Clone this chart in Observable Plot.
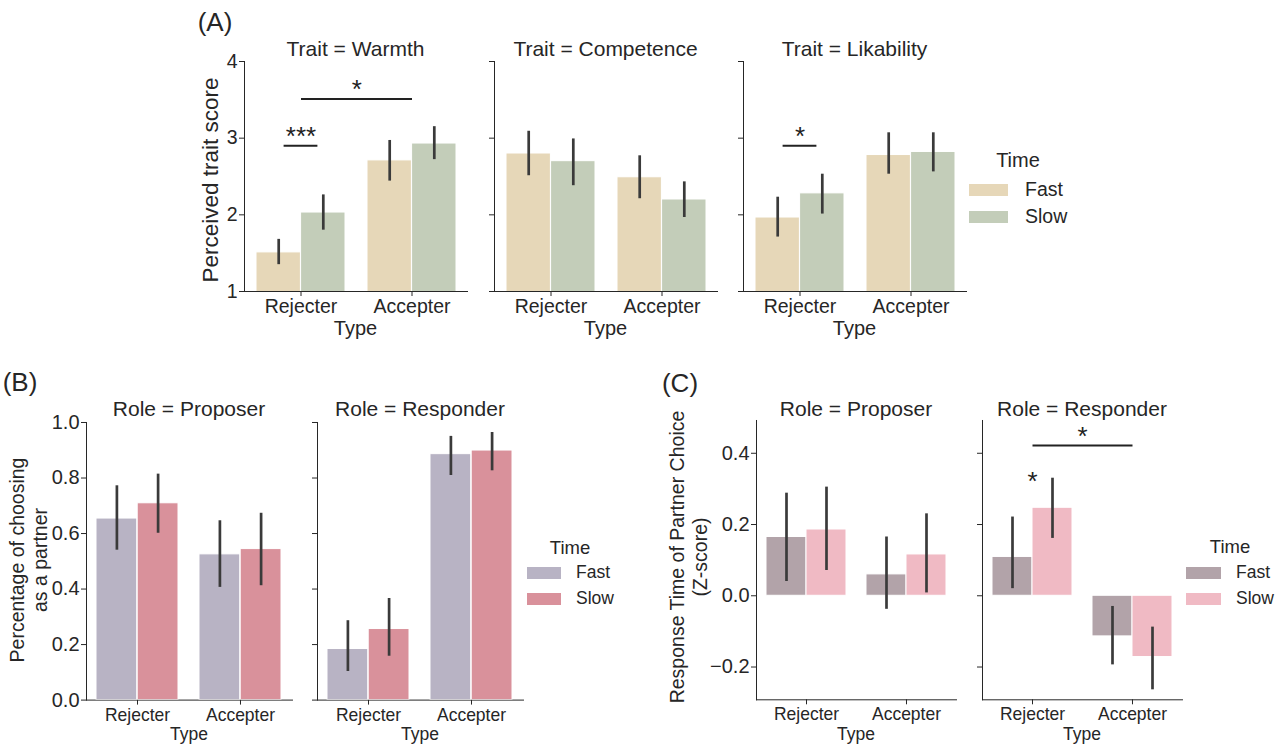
<!DOCTYPE html>
<html><head><meta charset="utf-8">
<script src="https://cdn.jsdelivr.net/npm/d3@7"></script>
<script src="https://cdn.jsdelivr.net/npm/@observablehq/plot@0.6"></script>
<style>
html,body{margin:0;padding:0;background:#fff;}
#root{position:relative;width:1280px;height:748px;overflow:hidden;font-family:"Liberation Sans",Arial,sans-serif;color:#262626;}
.t{position:absolute;white-space:nowrap;line-height:1;}
.ctr{transform:translate(-50%,-50%);}
.lft{transform:translate(0,-50%);}
.rot{transform:translate(-50%,-50%) rotate(-90deg);text-align:center;line-height:23px;}
.plotbox{position:absolute;}
.plotbox svg{overflow:visible;}
.smallx g[aria-label^="x-axis"] text{font-size:17.5px;}
.sw{position:absolute;height:12px;}
</style></head><body><div id="root"></div>
<script>
// ---------- data ----------
const types = ["Rejecter", "Accepter"];
const times = ["Fast", "Slow"];
// order of values: Rejecter-Fast, Rejecter-Slow, Accepter-Fast, Accepter-Slow

// (A) perceived trait score
const warmthMean = [1.51, 2.03, 2.71, 2.93];
const warmthLo   = [1.35, 1.80, 2.44, 2.72];
const warmthHi   = [1.68, 2.26, 2.97, 3.15];
const competenceMean = [2.80, 2.70, 2.49, 2.20];
const competenceLo   = [2.51, 2.38, 2.21, 1.965];
const competenceHi   = [3.09, 2.99, 2.77, 2.43];
const likabilityMean = [1.965, 2.28, 2.78, 2.82];
const likabilityLo   = [1.71, 2.01, 2.53, 2.56];
const likabilityHi   = [2.23, 2.53, 3.07, 3.07];
const traitTicks = [1, 2, 3, 4];

// (B) percentage of choosing as a partner
const choiceProposerMean = [0.654, 0.709, 0.525, 0.544];
const choiceProposerLo   = [0.540, 0.601, 0.406, 0.412];
const choiceProposerHi   = [0.772, 0.814, 0.646, 0.673];
const choiceResponderMean = [0.184, 0.256, 0.886, 0.899];
const choiceResponderLo   = [0.103, 0.158, 0.809, 0.826];
const choiceResponderHi   = [0.286, 0.366, 0.950, 0.964];
const choiceTicks = [0.0, 0.2, 0.4, 0.6, 0.8, 1.0];

// (C) response time of partner choice (z-score)
const rtProposerMean = [0.165, 0.186, 0.060, 0.116];
const rtProposerLo   = [0.040, 0.071, -0.038, 0.008];
const rtProposerHi   = [0.288, 0.305, 0.165, 0.230];
const rtResponderMean = [0.109, 0.247, -0.114, -0.172];
const rtResponderLo   = [0.020, 0.161, -0.194, -0.264];
const rtResponderHi   = [0.221, 0.330, -0.030, -0.088];
const rtTicks = [-0.2, 0.0, 0.2, 0.4];

// significance annotations
const warmthPairSig = [{type: "Rejecter", y: 2.90, label: "***"}];
const warmthTypeSig = [{from: "Rejecter", to: "Accepter", y: 3.51, label: "*"}];
const likabilityPairSig = [{type: "Rejecter", y: 2.90, label: "*"}];
const rtResponderTypeSig = [{from: "Rejecter", to: "Accepter", y: 0.4215, label: "*"}];
const rtResponderStar = [{type: "Rejecter", y: 0.295, label: "*"}];

// colours
const colorsA = ["#e6d7b8", "#c3cdb9"];
const colorsB = ["#b8b3c4", "#d9919b"];
const colorsC = ["#b2a3a9", "#f0bac4"];

// ---------- helpers ----------
const root = document.getElementById("root");
const FONT = '"Liberation Sans", Arial, sans-serif';

function rows(mean, lo, hi) {
  const out = [];
  types.forEach((t, i) => times.forEach((tm, j) => {
    const k = i * 2 + j;
    out.push({type: t, time: tm, mean: mean[k], lo: lo[k], hi: hi[k]});
  }));
  return out;
}

function text(str, x, y, size, cls = "ctr", extra = "") {
  const d = document.createElement("div");
  d.className = "t " + cls;
  d.style.left = x + "px";
  d.style.top = y + "px";
  d.style.fontSize = size + "px";
  if (extra) d.style.cssText += extra;
  d.innerHTML = str;
  root.appendChild(d);
  return d;
}

function panel(o) {
  const ML = 50, MR = 12, MT = 24, MB = 40;
  const h = o.yBottom - o.yTop;
  const step = o.w / 2, bw = step * 0.8;
  const data = rows(o.mean, o.lo, o.hi);
  const fast = data.filter(d => d.time === "Fast");
  const slow = data.filter(d => d.time === "Slow");
  const barOpts = {x: "type", y1: 0, y2: "mean", fill: "time", stroke: "white", strokeWidth: 1, clip: true};
  const errOpts = {x: "type", y1: "lo", y2: "hi", stroke: "#3a3a3a", strokeWidth: 2.7};
  const inset = (bw - 34) / 2;
  const starOpts = {text: "label", dy: -9, fontSize: 26, fill: "#222"};
  const svg = Plot.plot({
    width: o.w + ML + MR, height: h + MT + MB,
    marginLeft: ML, marginRight: MR, marginTop: MT, marginBottom: MB,
    style: {fontFamily: FONT, fontSize: o.yFont + "px", color: "#262626", background: "transparent", overflow: "visible"},
    x: {domain: types, paddingInner: 0.2, paddingOuter: 0.1, label: null, tickSize: 5, tickPadding: 3, line: true},
    y: {domain: o.yDomain, ticks: o.yTicks, tickFormat: o.showY ? o.yFmt : () => "", label: null, tickSize: 5, tickPadding: 2, line: true},
    color: {domain: times, range: o.colors},
    marks: [
      Plot.barY(fast, {...barOpts, insetRight: bw / 2}),
      Plot.barY(slow, {...barOpts, insetLeft: bw / 2}),
      Plot.ruleX(fast, {...errOpts, dx: -bw / 4}),
      Plot.ruleX(slow, {...errOpts, dx: bw / 4}),
      Plot.tickY(o.pairSig || [], {x: "type", y: "y", stroke: "#222", strokeWidth: 2, insetLeft: inset, insetRight: inset}),
      Plot.text(o.pairSig || [], {x: "type", y: "y", ...starOpts}),
      Plot.link(o.typeSig || [], {x1: "from", x2: "to", y1: "y", y2: "y", stroke: "#222", strokeWidth: 2}),
      Plot.text(o.typeSig || [], {x: "from", y: "y", dx: step / 2, ...starOpts}),
      Plot.text(o.stars || [], {x: "type", y: "y", ...starOpts})
    ]
  });
  const box = document.createElement("div");
  box.className = "plotbox" + (o.smallX ? " smallx" : "");
  box.style.left = (o.x0 - ML) + "px";
  box.style.top = (o.yTop - MT) + "px";
  box.appendChild(svg);
  root.appendChild(box);
  text(o.title, o.x0 + o.w / 2, o.titleY, 21);
  text("Type", o.x0 + o.w / 2, o.typeY, o.typeFont);
}

function legend(o) {
  text("Time", o.titleX, o.titleY, o.titleFont);
  times.forEach((tm, i) => {
    const s = document.createElement("div");
    s.className = "sw";
    s.style.left = o.swX + "px";
    s.style.width = o.swW + "px";
    s.style.top = (o.rowY[i] - 6) + "px";
    s.style.background = o.colors[i];
    root.appendChild(s);
    text(tm, o.labelX, o.rowY[i], o.labelFont, "lft");
  });
}

const fmt1 = d => d.toFixed(1);
const fmtZ = d => (d < 0 ? "\u2212" : "") + Math.abs(d).toFixed(1);

// ---------- panel A ----------
const A = {w: 223, yTop: 61, yBottom: 291, yDomain: [1, 4], yTicks: traitTicks, yFmt: d => String(d),
  colors: colorsA, yFont: 19.5, titleY: 48, typeY: 328, typeFont: 20};
panel({...A, x0: 244, showY: true, mean: warmthMean, lo: warmthLo, hi: warmthHi, title: "Trait = Warmth",
  pairSig: warmthPairSig, typeSig: warmthTypeSig});
panel({...A, x0: 494, showY: false, mean: competenceMean, lo: competenceLo, hi: competenceHi, title: "Trait = Competence"});
panel({...A, x0: 743, showY: false, mean: likabilityMean, lo: likabilityLo, hi: likabilityHi, title: "Trait = Likability",
  pairSig: likabilityPairSig});
text("(A)", 215, 22, 26);
text("Perceived trait score", 210, 180, 22.5, "rot");
legend({titleX: 1018, titleY: 160, titleFont: 20, swX: 969, swW: 39, rowY: [190, 217], labelX: 1025, labelFont: 19.5, colors: colorsA});

// ---------- panel B ----------
const B = {w: 206, yTop: 421.7, yBottom: 699.3, yDomain: [0, 1], yTicks: choiceTicks, yFmt: fmt1,
  colors: colorsB, yFont: 20, titleY: 408, typeY: 735, typeFont: 17.5, smallX: true};
panel({...B, x0: 86, showY: true, mean: choiceProposerMean, lo: choiceProposerLo, hi: choiceProposerHi, title: "Role = Proposer"});
panel({...B, x0: 317, showY: false, mean: choiceResponderMean, lo: choiceResponderLo, hi: choiceResponderHi, title: "Role = Responder"});
text("(B)", 20, 382, 26);
text("Percentage of choosing<br>as a partner", 29, 560, 19.5, "rot");
legend({titleX: 570, titleY: 548, titleFont: 18.5, swX: 527, swW: 34, rowY: [573, 599], labelX: 576, labelFont: 17.5, colors: colorsB});

// ---------- panel C ----------
const C = {w: 200, yTop: 420, yBottom: 699.3, yDomain: [-0.292, 0.492], yTicks: rtTicks, yFmt: fmtZ,
  colors: colorsC, yFont: 20, titleY: 408, typeY: 735, typeFont: 17.5, smallX: true};
panel({...C, x0: 756, showY: true, mean: rtProposerMean, lo: rtProposerLo, hi: rtProposerHi, title: "Role = Proposer"});
panel({...C, x0: 982, showY: false, mean: rtResponderMean, lo: rtResponderLo, hi: rtResponderHi, title: "Role = Responder",
  typeSig: rtResponderTypeSig, stars: rtResponderStar});
text("(C)", 680, 383, 26);
text("Response Time of Partner Choice<br>(Z-score)", 689, 557, 19.5, "rot");
legend({titleX: 1230, titleY: 547, titleFont: 18.5, swX: 1186, swW: 35, rowY: [573, 599], labelX: 1236, labelFont: 17.5, colors: colorsC});
</script></body></html>
